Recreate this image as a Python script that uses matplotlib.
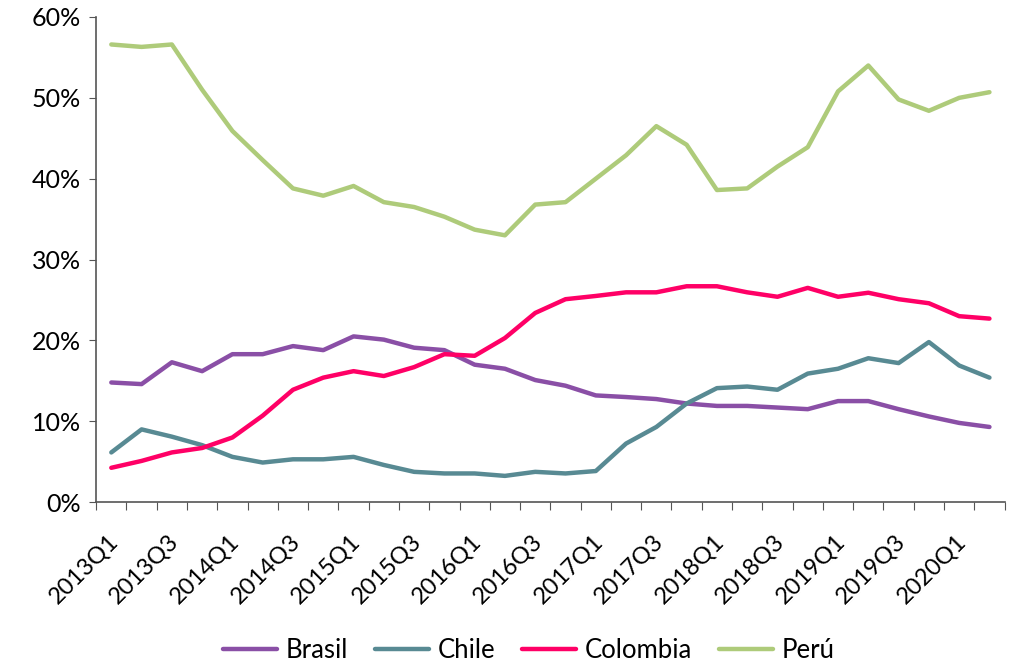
import numpy as np
import matplotlib
matplotlib.use('Agg')
from matplotlib import pyplot as plt
from matplotlib.ticker import FuncFormatter
from matplotlib.transforms import ScaledTranslation

# data (shares, %)
quarters = [f'{y}Q{q}' for y in range(2013, 2021) for q in range(1, 5)][:30]
brasil = [14.8, 14.6, 17.3, 16.2, 18.3, 18.3, 19.3, 18.8, 20.5, 20.1, 19.1, 18.8, 17.0, 16.5, 15.1,
          14.4, 13.2, 13.0, 12.75, 12.2, 11.9, 11.9, 11.7, 11.5, 12.5, 12.5, 11.5, 10.6, 9.8, 9.3]
chile = [6.15, 9.0, 8.1, 7.05, 5.6, 4.9, 5.3, 5.3, 5.6, 4.6, 3.75, 3.55, 3.55, 3.25, 3.75,
         3.55, 3.85, 7.25, 9.3, 12.2, 14.1, 14.3, 13.9, 15.9, 16.5, 17.8, 17.2, 19.8, 16.9, 15.4]
colombia = [4.25, 5.1, 6.15, 6.7, 8.0, 10.7, 13.9, 15.4, 16.2, 15.6, 16.7, 18.3, 18.1, 20.3, 23.4,
            25.1, 25.5, 25.95, 25.95, 26.7, 26.7, 25.95, 25.4, 26.5, 25.4, 25.9, 25.1, 24.6, 23.0, 22.7]
peru = [56.6, 56.3, 56.6, 51.0, 45.9, 42.3, 38.8, 37.9, 39.1, 37.1, 36.5, 35.3, 33.7, 33.0, 36.8,
        37.1, 40.0, 42.9, 46.5, 44.2, 38.6, 38.8, 41.5, 43.9, 50.8, 54.0, 49.8, 48.4, 50.0, 50.7]

series = [('Brasil', brasil, '#8A4FA6'),
          ('Chile', chile, '#588A93'),
          ('Colombia', colombia, '#FF0066'),
          ('Perú', peru, '#AECB7A')]

plt.rcParams['font.family'] = ['Lato', 'DejaVu Sans']

fig = plt.figure(figsize=(10.23, 6.66), dpi=100)
ax = fig.add_axes([0.094, 0.246, 0.888, 0.7285])

x = np.arange(len(quarters))
for name, vals, col in series:
    ax.plot(x, vals, color=col, lw=3.2, label=name, solid_capstyle='round')

ax.set_xlim(-0.5, len(quarters) - 0.5)
ax.set_ylim(0, 60)
ax.set_yticks(np.arange(0, 61, 10))
ax.yaxis.set_major_formatter(FuncFormatter(lambda v, p: f'{v:.0f}%'))
ax.tick_params(axis='y', labelsize=18, length=5, color='#555555', pad=6)

# tick marks between categories, labels every second quarter
ax.set_xticks(np.arange(-0.5, len(quarters), 1))
ax.set_xticklabels([])
ax.set_xticks(x[::2], minor=True)
ax.set_xticklabels(quarters[::2], minor=True, rotation=45, ha='right', va='baseline',
                   rotation_mode='anchor', fontsize=17)
ax.tick_params(axis='x', which='major', length=6, color='#555555')
ax.tick_params(axis='x', which='minor', length=0, pad=29)
shift = ScaledTranslation(8 / 100, 0, fig.dpi_scale_trans)
for lab in ax.get_xticklabels(minor=True):
    lab.set_transform(lab.get_transform() + shift)

for s in ['top', 'right']:
    ax.spines[s].set_visible(False)
for s in ['left', 'bottom']:
    ax.spines[s].set_color('#555555')
    ax.spines[s].set_linewidth(1.2)

fig.legend(loc='lower center', bbox_to_anchor=(0.517, -0.03), ncol=4, frameon=False,
           fontsize=18.5, handlelength=2.1, handletextpad=0.33, columnspacing=1.05)

fig.savefig('out.png', dpi=100)
